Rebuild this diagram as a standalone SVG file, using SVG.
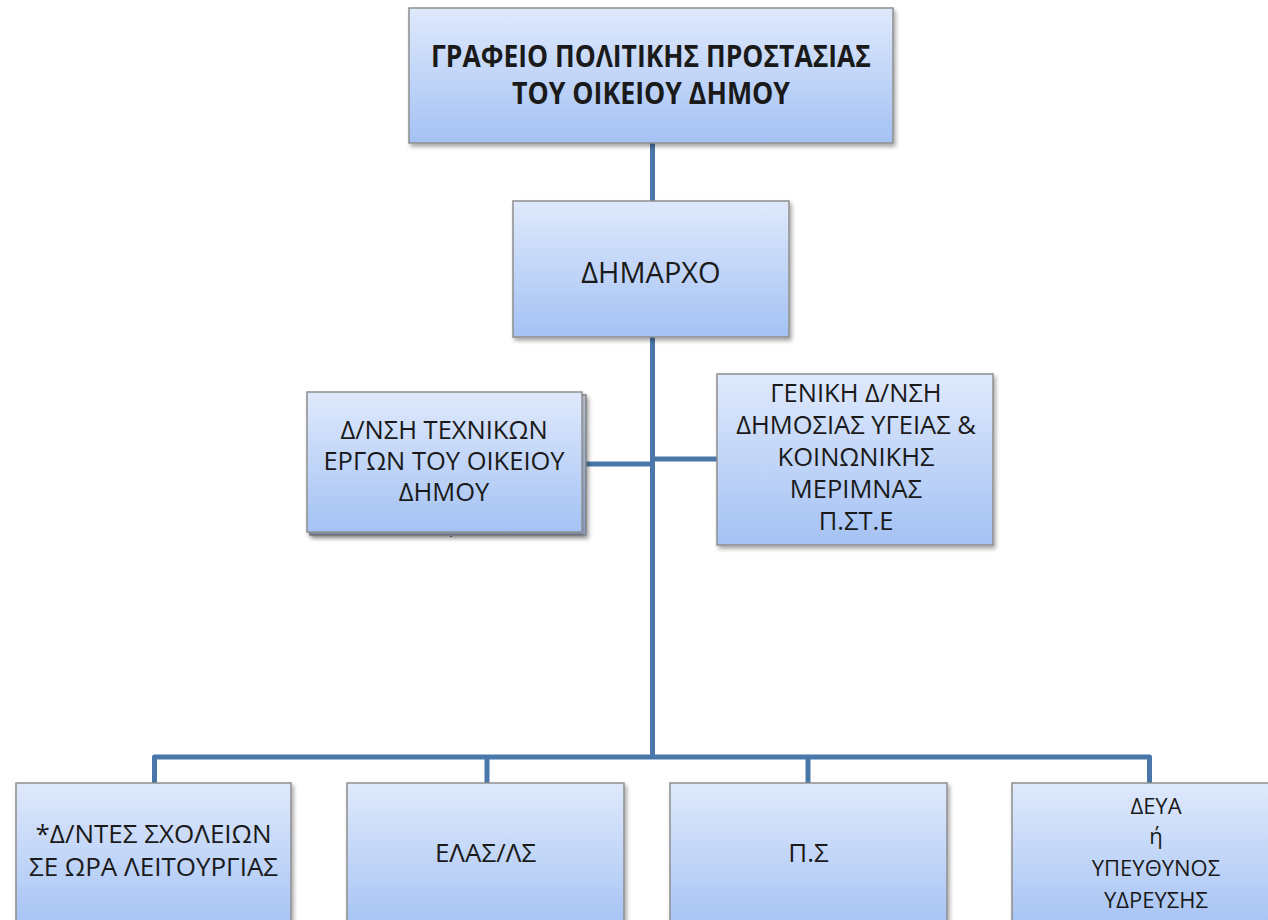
<svg xmlns="http://www.w3.org/2000/svg" width="1268" height="920" viewBox="0 0 1268 920">
  <defs>
    <linearGradient id="boxGrad" x1="0" y1="0" x2="0" y2="1">
      <stop offset="0" stop-color="#dfe9fc"/>
      <stop offset="1" stop-color="#a4c2f4"/>
    </linearGradient>
    <filter id="shadow" x="-10%" y="-10%" width="130%" height="130%">
      <feDropShadow dx="2" dy="3" stdDeviation="2" flood-color="#000" flood-opacity="0.35"/>
    </filter>
    <style>
      .box { fill: url(#boxGrad); stroke: #8e8e8e; stroke-width: 1.5; filter: url(#shadow); }
      .conn { stroke: #4a77aa; stroke-width: 5; fill: none; stroke-linejoin: round; }
      .t { font-family: "Open Sans", "Noto Sans", "DejaVu Sans", sans-serif; fill: #1a1a1a; text-anchor: middle; }
      .title { font-size: 30px; font-weight: bold; }
      .mid { font-size: 25.5px; }
      .big { font-size: 26px; }
      .sm { font-size: 22px; }
      .xl { font-size: 29px; }
    </style>
  </defs>
  <rect width="1268" height="920" fill="#ffffff"/>

  <g id="connectors">
    <line class="conn" x1="652.5" y1="143" x2="652.5" y2="202"/>
    <line class="conn" x1="652.5" y1="337" x2="652.5" y2="759"/>
    <line class="conn" x1="582" y1="464" x2="652.5" y2="464"/>
    <line class="conn" x1="652.5" y1="459" x2="717" y2="459"/>
    <path class="conn" d="M154.5,784 V757 H1149.5 V784"/>
    <line class="conn" x1="487" y1="757" x2="487" y2="784"/>
    <line class="conn" x1="808" y1="757" x2="808" y2="784"/>
    <line x1="451" y1="533" x2="451" y2="537" stroke="#4a77aa" stroke-width="2"/>
  </g>

  <g id="node-grafeio">
    <rect class="box" x="409" y="8" width="484" height="135"/>
    <text class="t title" x="651" y="67" textLength="440" lengthAdjust="spacingAndGlyphs">ΓΡΑΦΕΙΟ ΠΟΛΙΤΙΚΗΣ ΠΡΟΣΤΑΣΙΑΣ</text>
    <text class="t title" x="651" y="104" textLength="278" lengthAdjust="spacingAndGlyphs">ΤΟΥ ΟΙΚΕΙΟΥ ΔΗΜΟΥ</text>
  </g>

  <g id="node-dimarxos">
    <rect class="box" x="513" y="201" width="276" height="136"/>
    <text class="t xl" x="651" y="283">ΔΗΜΑΡΧΟ</text>
  </g>

  <g id="node-texnika">
    <rect class="box" x="310" y="395" width="276" height="140"/>
    <rect class="box" x="307" y="392" width="275" height="140"/>
    <text class="t mid" x="444" y="439">Δ/ΝΣΗ ΤΕΧΝΙΚΩΝ</text>
    <text class="t mid" x="444" y="470">ΕΡΓΩΝ ΤΟΥ ΟΙΚΕΙΟΥ</text>
    <text class="t mid" x="444" y="501">ΔΗΜΟΥ</text>
  </g>

  <g id="node-geniki">
    <rect class="box" x="717" y="374" width="276" height="171"/>
    <text class="t mid" x="856" y="402">ΓΕΝΙΚΗ Δ/ΝΣΗ</text>
    <text class="t mid" x="856" y="434">ΔΗΜΟΣΙΑΣ ΥΓΕΙΑΣ &amp;</text>
    <text class="t mid" x="856" y="466">ΚΟΙΝΩΝΙΚΗΣ</text>
    <text class="t mid" x="856" y="498">ΜΕΡΙΜΝΑΣ</text>
    <text class="t mid" x="856" y="530">Π.ΣΤ.Ε</text>
  </g>

  <g id="node-sxoleia">
    <rect class="box" x="16" y="783" width="275" height="150"/>
    <text class="t big" x="153.5" y="843">*Δ/ΝΤΕΣ ΣΧΟΛΕΙΩΝ</text>
    <text class="t big" x="153.5" y="876">ΣΕ ΩΡΑ ΛΕΙΤΟΥΡΓΙΑΣ</text>
  </g>

  <g id="node-elas">
    <rect class="box" x="347" y="783" width="277" height="150"/>
    <text class="t big" x="485.5" y="862">ΕΛΑΣ/ΛΣ</text>
  </g>

  <g id="node-ps">
    <rect class="box" x="670" y="783" width="277" height="150"/>
    <text class="t big" x="808.5" y="862">Π.Σ</text>
  </g>

  <g id="node-deya">
    <rect class="box" x="1012" y="783" width="290" height="150"/>
    <text class="t sm" x="1156" y="814">ΔΕΥΑ</text>
    <text class="t sm" x="1156" y="844">ή</text>
    <text class="t sm" x="1156" y="876">ΥΠΕΥΘΥΝΟΣ</text>
    <text class="t sm" x="1156" y="908">ΥΔΡΕΥΣΗΣ</text>
  </g>
</svg>
